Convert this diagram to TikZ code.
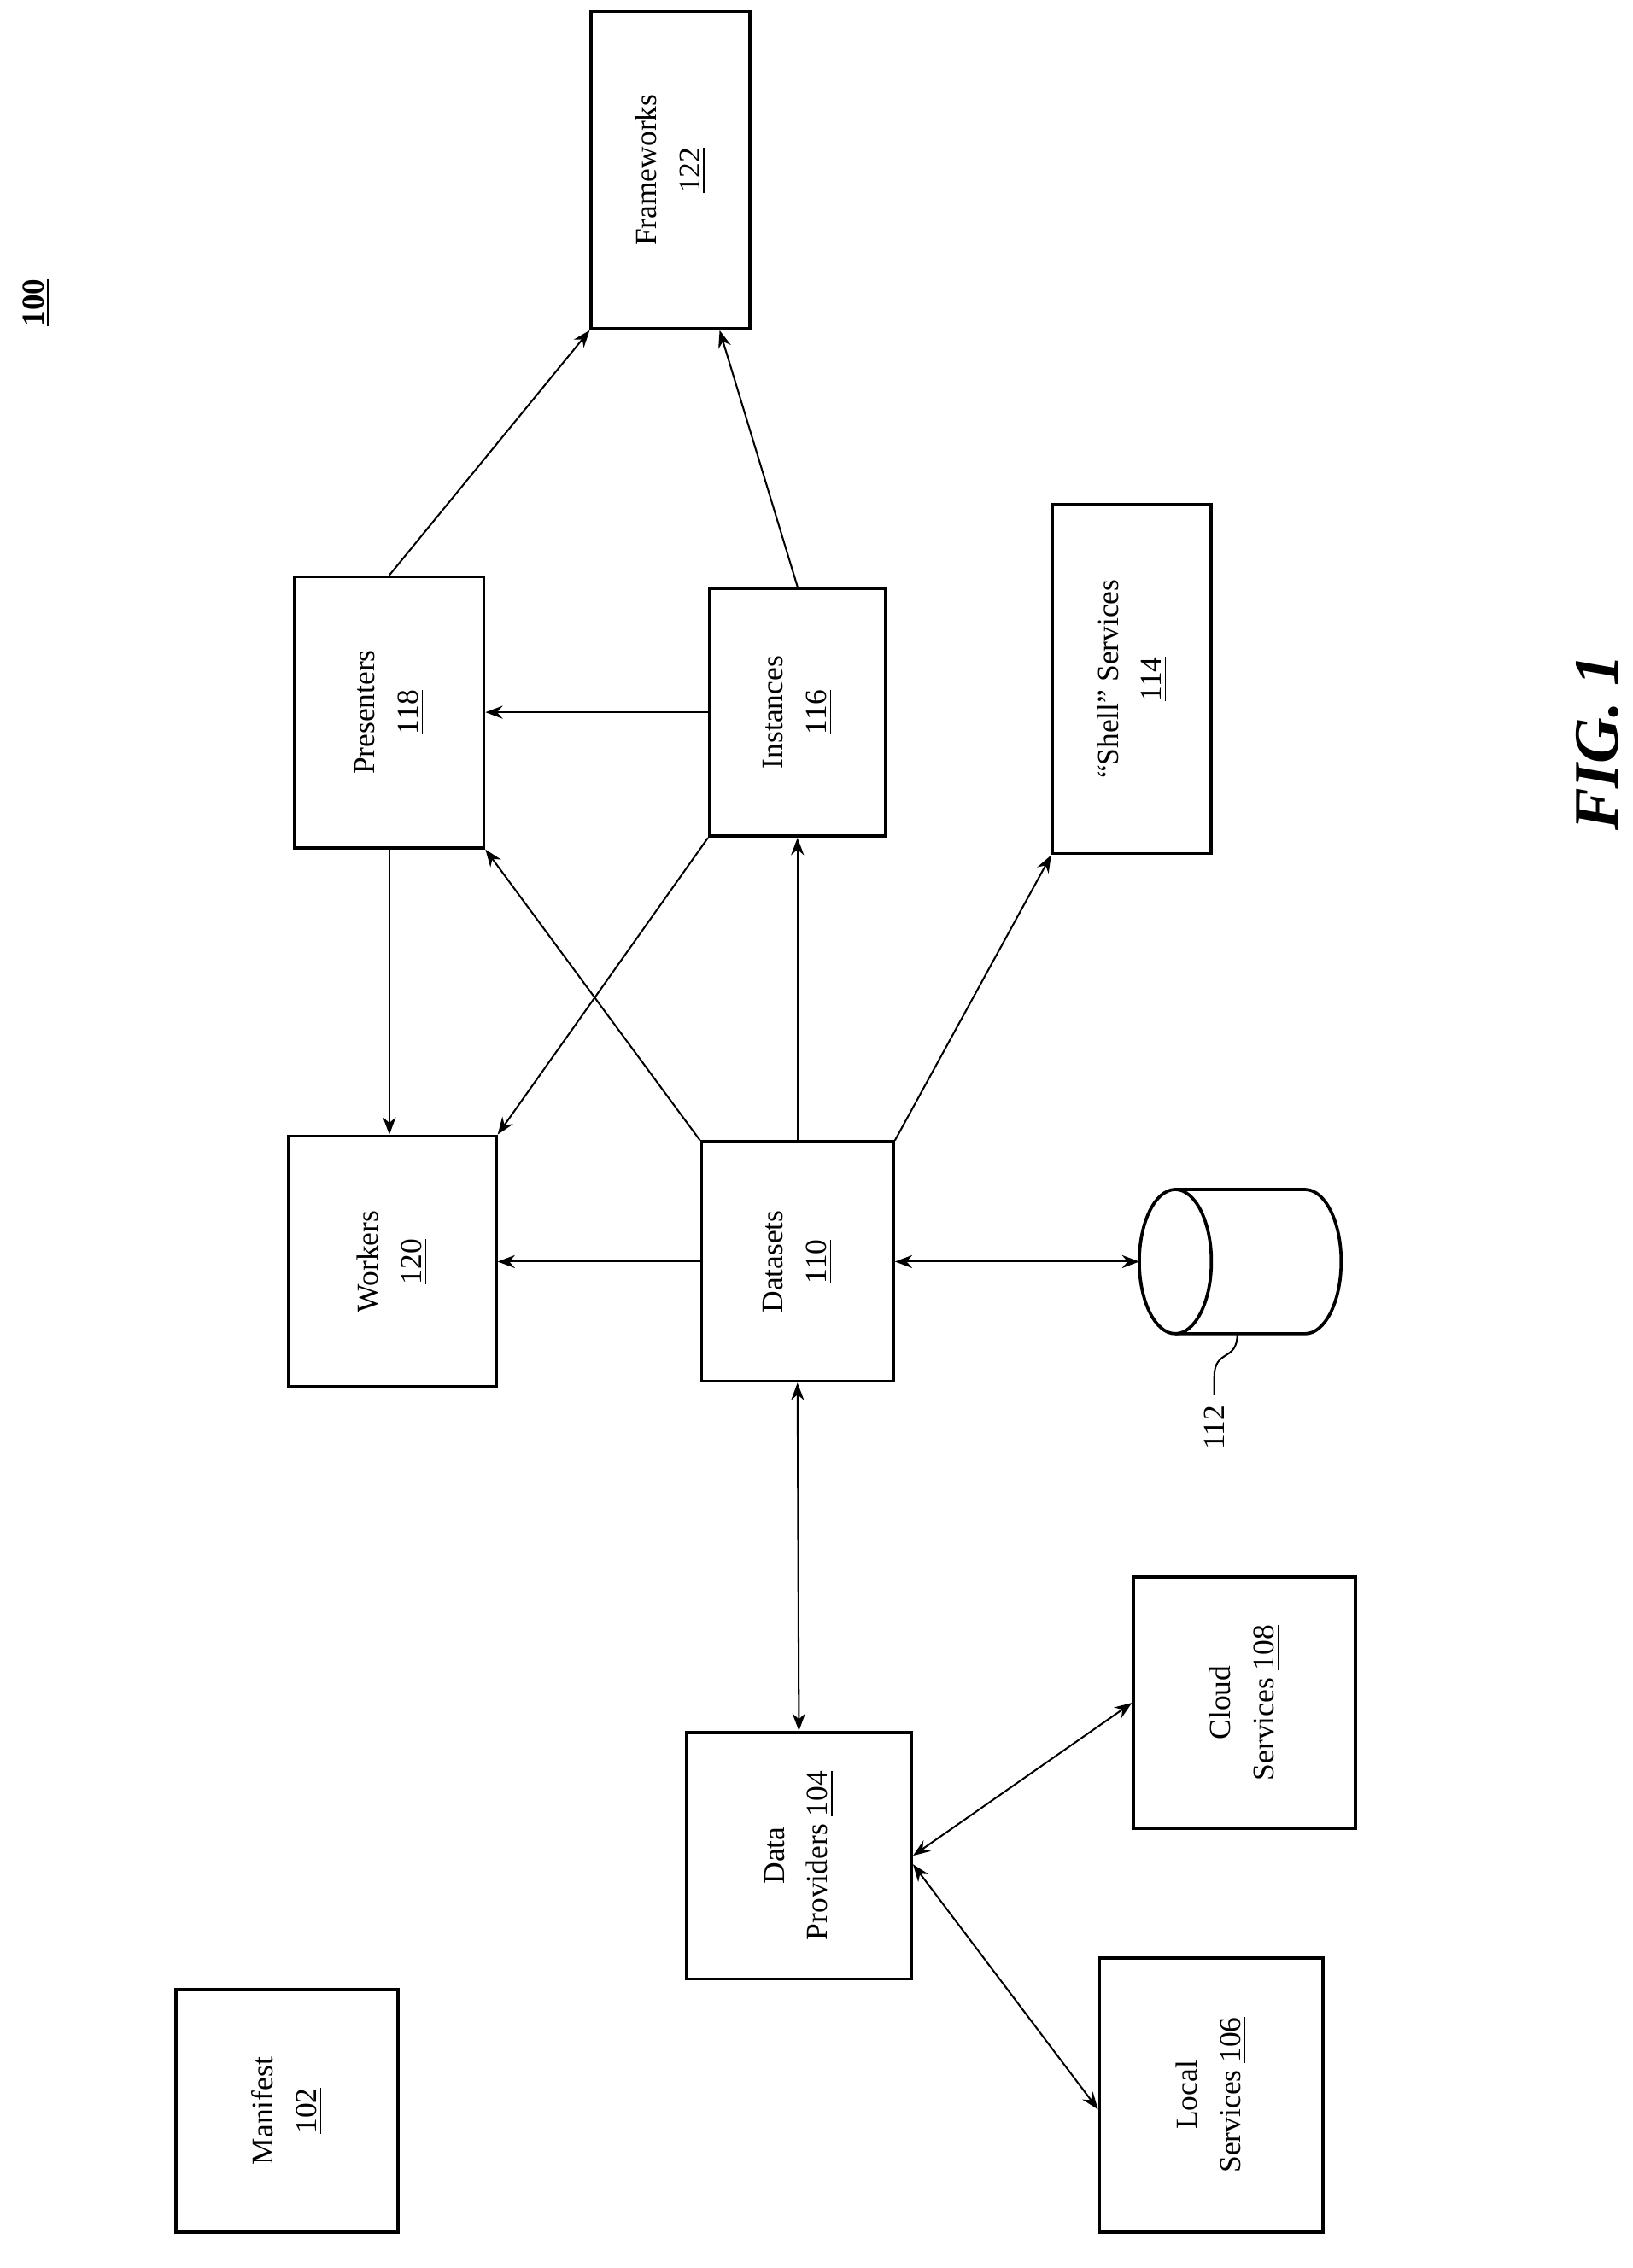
\documentclass[tikz,border=0pt]{standalone}
\usepackage{fontspec}
\setmainfont{Liberation Serif}
\usetikzlibrary{arrows.meta}
\begin{document}
\begin{tikzpicture}[x=0.5pt,y=-0.5pt,
  box/.style={draw,line width=1.1pt,inner sep=0pt},
  lab/.style={rotate=90,align=center,font=\fontsize{10.5}{15}\selectfont},
  arr/.style={-{Stealth[length=6pt,width=4.5pt]},line width=0.6pt},
  darr/.style={{Stealth[length=6pt,width=4.5pt]}-{Stealth[length=6pt,width=4.5pt]},line width=0.6pt}]
\useasboundingbox (0,0) rectangle (1132,1573);
\newcommand{\mybox}[5]{%
  \node[box,minimum width=#3*0.5pt,minimum height=#4*0.5pt] (#1) at #2 {};
  \node[lab] (#1t) at (#1.center) {#5};}
\mybox{fw}{(465,118)}{110}{220}{Frameworks\\\underline{122}}
\mybox{pres}{(270,494)}{131}{188}{Presenters\\\underline{118}}
\mybox{inst}{(553,494)}{122}{172}{Instances\\\underline{116}}
\mybox{shell}{(785,471)}{110}{242}{``Shell'' Services\\\underline{114}}
\mybox{work}{(272,875)}{144}{174}{Workers\\\underline{120}}
\mybox{data}{(553,875)}{133}{166}{Datasets\\\underline{110}}
\mybox{dp}{(554,1287)}{156}{171}{Data\\Providers \underline{104}}
\mybox{cloud}{(863,1181)}{154}{174}{Cloud\\Services \underline{108}}
\mybox{local}{(840,1453)}{155}{190}{Local\\Services \underline{106}}
\mybox{man}{(199,1464)}{154}{168}{Manifest\\\underline{102}}
% cylinder
\draw[line width=1.1pt] (815,825) -- (905,825) arc[start angle=-90,end angle=90,x radius=25,y radius=50] -- (815,925);
\draw[line width=1.1pt] (815,875) ellipse[x radius=25,y radius=50];
\coordinate (cyl) at (790,875);
\coordinate (cylb) at (858,925);
\node[rotate=90,font=\fontsize{10.5}{15}\selectfont] (l112) at (842,990) {112};
\draw[line width=0.6pt] (cylb) .. controls (858,945) and (842,935) .. (842,955) -- (l112.east);
% arrows
\draw[arr] (pres.north) -- (fw.south west);
\draw[arr] (inst.north) -- ([xshift=17pt]fw.south);
\draw[arr] (inst.west) -- (pres.east);
\draw[arr] (pres.south) -- ([xshift=-1pt]work.north);
\draw[arr] (inst.south west) -- (work.north east);
\draw[arr] (data.north west) -- (pres.south east);
\draw[arr] (data.north) -- (inst.south);
\draw[arr] (data.north east) -- (shell.south west);
\draw[arr] (data.west) -- (work.east);
\draw[darr] (data.east) -- (cyl);
\draw[darr] (data.south) -- (dp.north);
\draw[darr] (dp.east) -- (cloud.west);
\draw[darr] ([yshift=-3pt]dp.east) -- ([yshift=-5pt]local.west);
\node[rotate=90,font=\bfseries\fontsize{11}{13}\selectfont] (n100) at (25,210) {\underline{100}};
\node[rotate=90,font=\bfseries\itshape\fontsize{22}{26}\selectfont] (fig) at (1108,515) {FIG. 1};
\end{tikzpicture}
\end{document}
